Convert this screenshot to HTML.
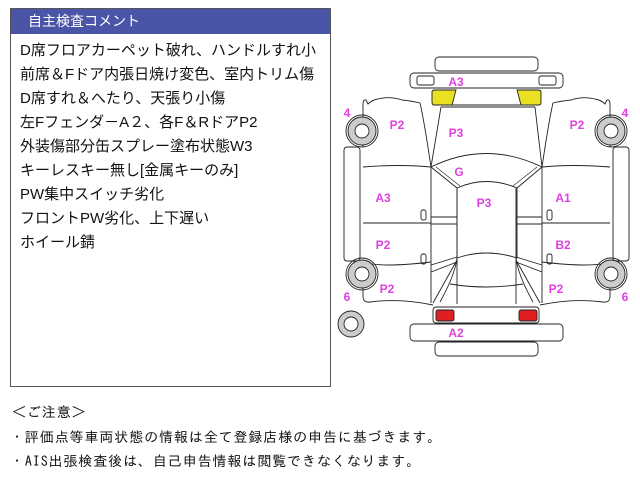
<!DOCTYPE html>
<html><head><meta charset="utf-8"><style>
body{margin:0;width:640px;height:480px;background:#fff;font-family:"Liberation Sans","Noto Sans CJK JP",sans-serif;position:relative;overflow:hidden}
#box{position:absolute;left:10px;top:8px;width:321px;height:379px;border:1px solid #555;box-sizing:border-box}
#hd{background:#4a55a8;color:#fff;height:25px;line-height:25px;font-size:14px;padding-left:17px}
.ln{position:absolute;left:9px;font-size:15px;color:#111;white-space:nowrap}
.nt{position:absolute;left:12px;font-size:14px;letter-spacing:0.9px;color:#111;white-space:nowrap;font-family:"IPAGothic","Noto Sans CJK JP",sans-serif}
svg{position:absolute;left:0;top:0}
.l{fill:#e040e0;font:bold 12px "Liberation Sans",sans-serif;text-anchor:middle}
</style></head><body>
<div id="box"><div id="hd">自主検査コメント</div>
<div class="ln" style="top:30px">D席フロアカーペット破れ、ハンドルすれ小</div>
<div class="ln" style="top:54px">前席＆Fドア内張日焼け変色、室内トリム傷</div>
<div class="ln" style="top:78px">D席すれ＆へたり、天張り小傷</div>
<div class="ln" style="top:102px">左Fフェンダ－A２、各F＆RドアP2</div>
<div class="ln" style="top:126px">外装傷部分缶スプレー塗布状態W3</div>
<div class="ln" style="top:150px">キーレスキー無し[金属キーのみ]</div>
<div class="ln" style="top:174px">PW集中スイッチ劣化</div>
<div class="ln" style="top:198px">フロントPW劣化、上下遅い</div>
<div class="ln" style="top:222px">ホイール錆</div>
</div>
<div class="nt" style="top:405px">＜ご注意＞</div>
<div class="nt" style="top:430px;left:10px">・評価点等車両状態の情報は全て登録店様の申告に基づきます。</div>
<div class="nt" style="top:454px;left:10px">・AIS出張検査後は、自己申告情報は閲覧できなくなります。</div>
<svg width="640" height="480" viewBox="0 0 640 480">
<g fill="none" stroke="#222" stroke-width="0.9">
<rect x="435" y="57" width="103" height="14" rx="4" fill="#fff"/>
<rect x="410" y="73" width="153" height="15" rx="4" fill="#fff"/>
<rect x="417" y="76" width="17" height="9" rx="2"/>
<rect x="539" y="76" width="17" height="9" rx="2"/>
<path d="M435 90 H456 L452 105 H434 Q432 105 432 102 V92 Q432 90 435 90Z" fill="#e8e020"/>
<path d="M538 90 H517 L521 105 H539 Q541 105 541 102 V92 Q541 90 538 90Z" fill="#e8e020"/>
<line x1="452" y1="105" x2="521" y2="105"/>
<path d="M441 107 H535"/>
<path d="M441 107 L431 167 M535 107 L542 167"/>
<path d="M431 167 Q486 140 542 167"/>
<path d="M431 167 L457 188 M542 167 L517 188"/>
<path d="M436 167 L460 186 M537 167 L513 186" stroke-width="0.6"/>
<path d="M457 188 Q486 175 517 188 V258 Q486 248 457 258Z"/>
<path d="M450 284 Q486 290 523 284"/>
<rect x="433" y="307" width="106" height="16" rx="3" fill="#fff"/>
<rect x="436" y="310" width="18" height="11" rx="2" fill="#e02020"/>
<rect x="519" y="310" width="18" height="11" rx="2" fill="#e02020"/>
<rect x="410" y="324" width="153" height="17" rx="4" fill="#fff"/>
<rect x="435" y="342" width="103" height="14" rx="4" fill="#fff"/>
<circle cx="351" cy="324" r="13" fill="#ccc"/><circle cx="351" cy="324" r="7" fill="#fff"/>
<g id="side">
<path d="M363 147 V105 Q363 99 366 100 L368 104 Q372 100 378 99 Q390 96 402 100 Q412 101 420 103 Q424 120 431 167"/>
<path d="M363 167 Q400 164 431 167 M363 223 H431 M363 262 Q380 268 431 262"/>
<path d="M363 118 V147 M363 261 V296 Q363 303 370 302 Q400 298 433 305"/>
<path d="M431 167 V303 M457 188 V304"/>
<rect x="344" y="147" width="16" height="114" rx="3"/>
<rect x="421" y="210" width="5" height="10" rx="2"/>
<rect x="421" y="254" width="5" height="10" rx="2"/>
<path d="M431 217 H457 M431 224 H457"/>
<path d="M431 265 L457 257 M431 272 L457 262"/>
<path d="M433 303 L457 260 M440 302 Q455 275 457 258"/>
<circle cx="362" cy="131" r="16"/><circle cx="362" cy="131" r="14" fill="#ccc"/><circle cx="362" cy="131" r="7" fill="#fff"/>
<circle cx="362" cy="274" r="16"/><circle cx="362" cy="274" r="14" fill="#ccc"/><circle cx="362" cy="274" r="7" fill="#fff"/>
</g>
<use href="#side" transform="translate(973,0) scale(-1,1)"/>
</g>
<text class="l" x="456" y="86">A3</text>
<text class="l" x="397" y="129">P2</text>
<text class="l" x="456" y="137">P3</text>
<text class="l" x="577" y="129">P2</text>
<text class="l" x="459" y="176">G</text>
<text class="l" x="383" y="202">A3</text>
<text class="l" x="484" y="207">P3</text>
<text class="l" x="563" y="202">A1</text>
<text class="l" x="383" y="249">P2</text>
<text class="l" x="563" y="249">B2</text>
<text class="l" x="387" y="293">P2</text>
<text class="l" x="556" y="293">P2</text>
<text class="l" x="347" y="117">4</text>
<text class="l" x="625" y="117">4</text>
<text class="l" x="347" y="301">6</text>
<text class="l" x="625" y="301">6</text>
<text class="l" x="456" y="337">A2</text>
</svg>
</body></html>
